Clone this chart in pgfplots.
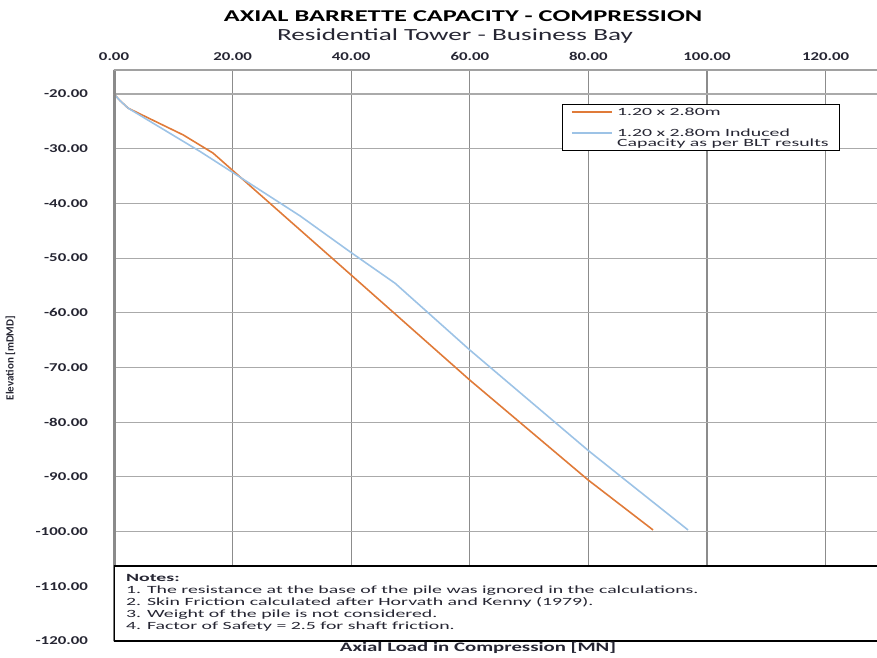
\documentclass[border=0pt]{standalone}
\usepackage{pgfplots}
\pgfplotsset{compat=1.18}
\usepackage{fontspec}
\setmainfont{Carlito}[FakeStretch=1.4]
\newfontfamily\widerfont{Carlito}[FakeStretch=1.6]
\newfontfamily\widestfont{Carlito}[FakeStretch=1.8]
\newfontfamily\plainfont{Carlito}

\definecolor{capOrange}{HTML}{E07B39}
\definecolor{capBlue}{HTML}{9DC3E6}
\definecolor{gridV}{HTML}{8C8C8C}
\definecolor{gridH}{HTML}{AAAAAA}
\definecolor{frameGray}{HTML}{8A8A8A}
\definecolor{labelInk}{HTML}{262633}

% capacity curves: axial load [MN] vs elevation [mDMD]
\pgfplotstableread{
load   elev
0.0   -20.0
1.0   -21.2
2.4   -22.6
11.7  -27.5
16.7  -30.8
40.0  -53.1
60.0  -72.3
80.0  -90.6
90.9  -99.7
}\capacity

\pgfplotstableread{
load   elev
0.0   -20.0
1.0   -21.2
2.4   -22.6
14.5  -30.5
20.1  -34.4
31.4  -42.3
40.0  -49.0
47.4  -54.6
60.0  -66.8
80.0  -85.2
96.8  -99.7
}\induced

\begin{document}
\begin{tikzpicture}[x=1pt,y=1pt]
\useasboundingbox (-114,-16) rectangle (763,641);
\begin{axis}[
  at={(0,0)}, anchor=south west,
  x=5.93pt, y=5.47pt,
  xmin=0, xmax=128.7, ymin=-120, ymax=-15.6,
  axis line style={draw=none},
  xtick={0,20,...,120},
  ytick={-120,-110,...,-20},
  xticklabel pos=top,
  major tick length=0pt,
  grid=major,
  x grid style={gridV, line width=1.3pt},
  y grid style={gridH, line width=1.1pt},
  /pgf/number format/assume math mode=true,
  /pgf/number format/.cd, fixed, fixed zerofill, precision=2,
  /pgfplots/.cd,
  xticklabel style={inner sep=0pt, anchor=south, yshift=9pt,
    font=\fontsize{12}{12}\selectfont\bfseries, text=labelInk},
  yticklabel style={inner sep=0pt, anchor=east, xshift=-26pt,
    font=\fontsize{12}{12}\selectfont\bfseries, text=labelInk},
]
\addplot[capOrange, line width=1.6pt] table[x=load, y=elev] {\capacity};
\addplot[capBlue, line width=1.6pt] table[x=load, y=elev] {\induced};

% frame: heavy left edge and top edge
\draw[frameGray, line width=4pt] (axis cs:0,-120) -- (axis cs:0,-15.6);
\draw[frameGray!80, line width=3pt] (axis cs:-0.3,-15.6) -- (axis cs:140,-15.6);

% legend box
\draw[black, line width=1pt, fill=white] (axis cs:75.55,-21.83) rectangle (axis cs:122.4,-30.42);
\draw[capOrange, line width=1.6pt] (axis cs:77.2,-23.3) -- (axis cs:84.0,-23.3);
\draw[capBlue, line width=1.6pt] (axis cs:77.2,-27.1) -- (axis cs:84.0,-27.1);
\begin{scope}[every node/.style={anchor=west, inner sep=0pt, text=labelInk,
    font=\widestfont\fontsize{11}{11}\selectfont}]
\node at (axis cs:84.8,-23.3) {1.20 x 2.80m};
\node at (axis cs:84.8,-27.1) {1.20 x 2.80m Induced};
\node at (axis cs:84.8,-29.0) {Capacity as per BLT results};
\end{scope}

% notes panel
\draw[black, line width=1.2pt, fill=white] (axis cs:0,-106.3) rectangle (axis cs:140,-120);
\node[anchor=north west, align=left, inner sep=0pt, text=labelInk,
      font=\widestfont\fontsize{11}{12.2}\selectfont]
  at (axis cs:2,-107.7)
  {\textbf{Notes:}\\
   1. The resistance at the base of the pile was ignored in the calculations.\\
   2. Skin Friction calculated after Horvath and Kenny (1979).\\
   3. Weight of the pile is not considered.\\
   4. Factor of Safety = 2.5 for shaft friction.};
\end{axis}

\node[font=\widerfont\fontsize{16.5}{16.5}\selectfont\bfseries, text=black] at (349,625) {AXIAL BARRETTE CAPACITY - COMPRESSION};
\node[font=\widerfont\fontsize{17}{17}\selectfont, text=labelInk] at (341,605) {Residential Tower - Business Bay};
\node[font=\widerfont\fontsize{13}{13}\selectfont\bfseries, text=labelInk] at (364,-7) {Axial Load in Compression [MN]};
\node[rotate=90, font=\plainfont\fontsize{11}{11}\selectfont\bfseries, text=labelInk]
  at (-103.5,283) {Elevation [mDMD]};
\end{tikzpicture}
\end{document}
